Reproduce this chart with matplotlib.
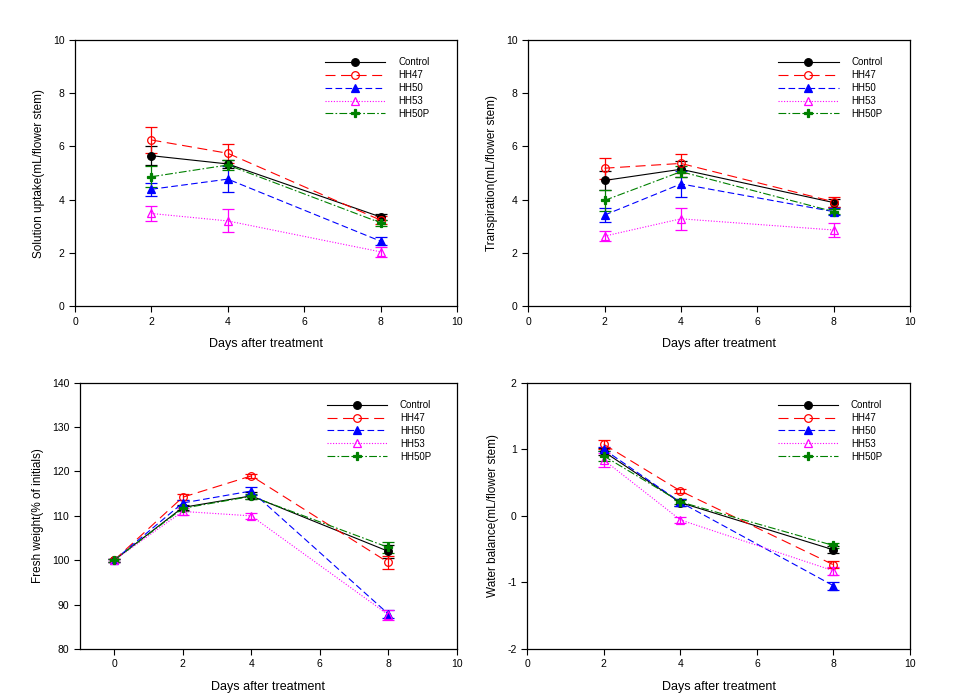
import matplotlib
matplotlib.use("Agg")
import matplotlib.pyplot as plt
import numpy as np

plt.rcParams['font.family'] = ['Liberation Sans', 'DejaVu Sans']
plt.rcParams['axes.unicode_minus'] = False

series = ['Control', 'HH47', 'HH50', 'HH53', 'HH50P']
days = [2, 4, 8]
days_fw = [0, 2, 4, 8]

# Solution uptake (mL/flower stem)
uptake = {
    'Control': [5.65, 5.34, 3.35],
    'HH47': [6.24, 5.74, 3.23],
    'HH50': [4.39, 4.77, 2.44],
    'HH53': [3.48, 3.20, 2.04],
    'HH50P': [4.86, 5.30, 3.13],
}
uptake_err = {
    'Control': [0.35, 0.15, 0.12],
    'HH47': [0.50, 0.35, 0.15],
    'HH50': [0.25, 0.50, 0.15],
    'HH53': [0.27, 0.43, 0.18],
    'HH50P': [0.40, 0.20, 0.12],
}

# Transpiration (mL/flower stem)
transp = {
    'Control': [4.72, 5.14, 3.89],
    'HH47': [5.18, 5.36, 3.92],
    'HH50': [3.42, 4.59, 3.55],
    'HH53': [2.63, 3.28, 2.86],
    'HH50P': [3.97, 5.05, 3.55],
}
transp_err = {
    'Control': [0.35, 0.30, 0.15],
    'HH47': [0.40, 0.35, 0.18],
    'HH50': [0.27, 0.48, 0.12],
    'HH53': [0.20, 0.42, 0.28],
    'HH50P': [0.38, 0.20, 0.10],
}

# Fresh weight (% of initials)
fresh = {
    'Control': [100, 111.9, 114.5, 102.0],
    'HH47': [100, 114.2, 119.0, 99.5],
    'HH50': [100, 112.9, 115.6, 87.9],
    'HH53': [100, 111.0, 110.0, 87.7],
    'HH50P': [100, 111.7, 114.4, 102.9],
}
fresh_err = {
    'Control': [0.3, 0.6, 0.8, 1.5],
    'HH47': [0.3, 0.7, 0.5, 1.5],
    'HH50': [0.3, 0.6, 0.8, 0.8],
    'HH53': [0.3, 0.7, 0.6, 1.1],
    'HH50P': [0.3, 0.6, 0.6, 1.2],
}

# Water balance (mL/flower stem)
balance = {
    'Control': [0.965, 0.20, -0.51],
    'HH47': [1.075, 0.375, -0.735],
    'HH50': [1.00, 0.205, -1.05],
    'HH53': [0.84, -0.06, -0.825],
    'HH50P': [0.90, 0.21, -0.445],
}
balance_err = {
    'Control': [0.05, 0.05, 0.05],
    'HH47': [0.07, 0.03, 0.05],
    'HH50': [0.03, 0.05, 0.06],
    'HH53': [0.10, 0.04, 0.06],
    'HH50P': [0.08, 0.03, 0.04],
}

styles = {
    'Control': dict(color='black', ls='-', marker='o', mfc='black'),
    'HH47': dict(color='red', ls=(0, (9, 5)), marker='o', mfc='none'),
    'HH50': dict(color='blue', ls=(0, (6, 3)), marker='^', mfc='blue'),
    'HH53': dict(color='magenta', ls=(0, (1, 1.5)), marker='^', mfc='none'),
    'HH50P': dict(color='green', ls=(0, (7, 2, 1.5, 2)), marker='P', mfc='green'),
}


def draw_panel(ax, x, data, err, xlim, ylim, yticks, ylabel):
    for name in series:
        st = styles[name]
        ax.errorbar(x, data[name], yerr=err[name], color=st['color'],
                    ls=st['ls'], lw=0.8, marker=st['marker'], ms=5.5,
                    mfc=st['mfc'], mec=st['color'], mew=0.9,
                    elinewidth=0.9, capsize=4, capthick=0.9, label=name)
    ax.set_xlim(*xlim)
    ax.set_ylim(*ylim)
    ax.set_xticks([0, 2, 4, 6, 8, 10])
    ax.set_yticks(yticks)
    ax.tick_params(direction='out', length=4, width=0.8, labelsize=7.5)
    for s in ax.spines.values():
        s.set_linewidth(0.9)
    ax.set_xlabel('Days after treatment', fontsize=9, labelpad=8)
    ax.set_ylabel(ylabel, fontsize=8.5, labelpad=6)
    handles, labels = ax.get_legend_handles_labels()
    handles = [h[0] for h in handles]
    ax.legend(handles, labels, loc='upper left', bbox_to_anchor=(0.655, 0.935),
              frameon=False, fontsize=7, handlelength=6.2, handletextpad=1.3,
              labelspacing=0.3, borderpad=0, borderaxespad=0)


fig = plt.figure(figsize=(9.62, 6.99), dpi=100)
ax1 = fig.add_axes([0.078, 0.562, 0.397, 0.381])
ax2 = fig.add_axes([0.549, 0.562, 0.397, 0.381])
ax3 = fig.add_axes([0.083, 0.0715, 0.392, 0.381])
ax4 = fig.add_axes([0.548, 0.0715, 0.398, 0.381])

draw_panel(ax1, days, uptake, uptake_err, (0, 10), (0, 10), range(0, 11, 2),
           'Solution uptake(mL/flower stem)')
draw_panel(ax2, days, transp, transp_err, (0, 10), (0, 10), range(0, 11, 2),
           'Transpiration(mL/flower stem)')
draw_panel(ax3, days_fw, fresh, fresh_err, (-1, 10), (80, 140), range(80, 141, 10),
           'Fresh weight(% of initials)')
draw_panel(ax4, days, balance, balance_err, (0, 10), (-2, 2), range(-2, 3, 1),
           'Water balance(mL/flower stem)')

fig.savefig('out.png', dpi=100)
